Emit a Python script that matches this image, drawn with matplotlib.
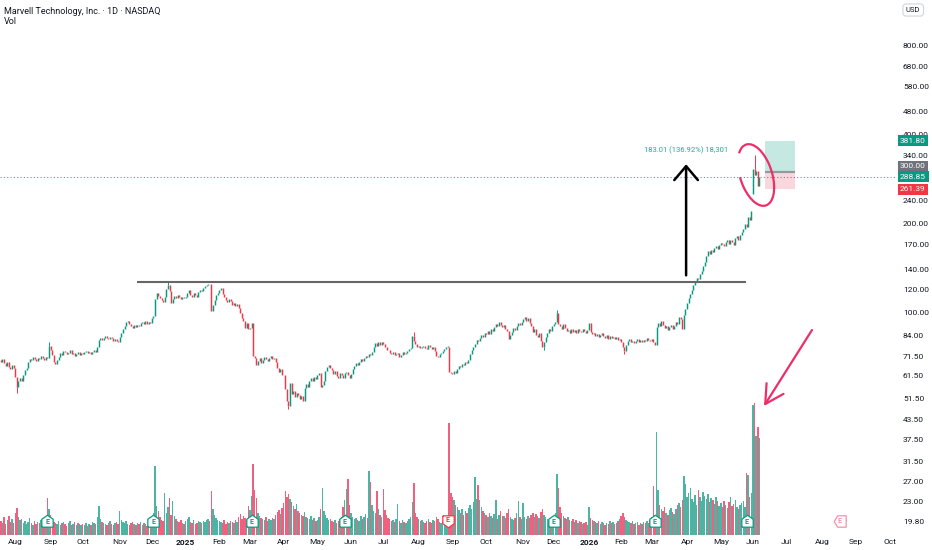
import numpy as np
import matplotlib
matplotlib.use("Agg")
import matplotlib.pyplot as plt
from matplotlib.patches import Arc, FancyArrowPatch, Rectangle
from matplotlib.transforms import IdentityTransform, blended_transform_factory
from matplotlib.ticker import NullLocator

plt.rcParams['font.family'] = ['Roboto', 'DejaVu Sans']

# ---- data -------------------------------------------------------------
# 9 daily bars of late Jul 2024 come before the first month label
lead_bars = 9
month_labels = ['Aug', 'Sep', 'Oct', 'Nov', 'Dec', '2025', 'Feb', 'Mar', 'Apr', 'May', 'Jun', 'Jul',
                'Aug', 'Sep', 'Oct', 'Nov', 'Dec', '2026', 'Feb', 'Mar', 'Apr', 'May', 'Jun', 'Jul',
                'Aug', 'Sep', 'Oct']
# trading days per month, Aug 2024 .. Sep 2026
month_bars = [22, 20, 23, 20, 21, 21, 19, 21, 21, 21, 20, 22, 21, 21, 23, 19, 22, 20, 19, 22, 21, 20,
              21, 22, 21, 21]

# daily closes, Jul 2024 .. Dec 2024
closes_2024 = [
    68.5, 69.8, 67.9, 66.2, 68.1, 65.5, 64.8, 66.9, 65.2,
    61.0, 56.2, 58.9, 60.5, 59.1, 61.8, 64.2, 65.0, 68.3, 70.1, 69.4, 71.2, 70.0, 68.9, 70.6, 69.7,
    71.3, 70.2, 69.5, 71.0, 70.4, 77.6,
    75.2, 71.9, 68.1, 67.3, 69.4, 71.2, 73.5, 72.1, 74.6, 73.8, 72.4, 73.1, 74.9, 72.6, 73.3, 71.8,
    72.9, 73.6, 72.2, 73.0,
    72.5, 73.8, 74.4, 73.1, 74.0, 72.9, 73.6, 74.8, 73.9, 76.5, 81.2, 82.6, 80.9, 82.3, 83.4, 82.0,
    81.5, 83.1, 82.4, 80.6, 81.8, 80.2, 79.5,
    82.8, 85.4, 88.1, 90.6, 93.2, 94.1, 92.0, 90.3, 89.1, 90.8, 89.6, 91.2, 90.4, 92.6, 93.4, 92.1,
    94.0, 91.7, 93.0, 92.3,
    95.8, 97.4, 111.5, 116.8, 114.2, 112.0, 110.3, 109.1, 113.6, 120.8, 124.5, 118.2, 108.4, 111.2,
    113.9, 112.5, 115.0, 113.4, 111.8, 113.1, 112.2,
]
closes_2025 = [
    112.8, 116.4, 119.2, 115.1, 113.5, 116.8, 114.9, 113.2, 117.5, 119.8, 118.6, 121.3, 122.9, 124.2,
    125.7, 124.8, 101.9, 106.2, 110.6, 114.8, 117.2,
    119.5, 121.2, 116.3, 112.9, 110.6, 108.8, 111.2, 109.4, 106.5, 108.2, 105.9, 107.3, 103.8, 100.2,
    96.1, 93.6, 89.3, 92.2, 88.4,
    89.2, 92.5, 71.8, 70.4, 66.5, 68.9, 70.3, 67.8, 69.5, 71.2, 70.1, 68.8, 70.6, 71.8, 69.9, 70.7,
    68.2, 65.4, 63.1, 64.6, 61.9,
    61.5, 55.2, 50.4, 48.6, 57.8, 53.1, 54.4, 52.0, 53.6, 52.9, 51.2, 52.4, 50.3, 55.6, 57.4, 56.1,
    58.9, 60.2, 59.1, 61.0, 59.8,
    61.8, 62.5, 56.4, 57.2, 58.9, 63.8, 65.9, 66.8, 65.2, 64.1, 62.3, 63.5, 61.2, 60.4, 62.8, 61.5,
    60.2, 62.9, 63.4, 61.8, 60.5,
    62.1, 64.8, 66.2, 67.9, 66.5, 68.4, 69.8, 68.6, 70.2, 71.5, 70.8, 72.6, 71.9, 74.1, 76.8, 78.9,
    77.4, 79.8, 78.2, 79.5,
    78.6, 76.9, 75.2, 74.8, 73.1, 72.4, 73.6, 71.9, 72.8, 73.5, 71.2, 72.1, 73.9, 72.6, 73.2, 74.5,
    75.8, 76.4, 83.5, 80.1, 78.5, 76.8,
    77.2, 75.9, 76.8, 77.5, 76.2, 75.4, 77.9, 76.6, 75.8, 76.9, 74.2, 71.8, 70.9, 72.4, 73.1, 74.6,
    75.8, 76.9, 77.0, 63.4, 62.6,
    62.1, 63.5, 62.8, 64.9, 66.2, 65.8, 67.4, 66.9, 68.3, 67.6, 69.1, 72.5, 74.8, 76.9, 78.4, 81.2,
    80.1, 82.6, 84.5, 83.2, 85.9,
    84.8, 86.9, 85.2, 88.3, 87.1, 89.6, 91.8, 90.4, 92.9, 91.1, 89.7, 90.8, 88.5, 86.9, 81.8, 84.2,
    86.5, 88.9, 87.3, 90.6, 92.4, 91.2, 93.5,
    95.6, 97.2, 94.1, 96.5, 92.8, 90.2, 86.4, 88.1, 84.5, 82.9, 85.6, 80.4, 76.8, 79.5, 83.2, 85.8,
    88.4, 87.2, 90.6,
    91.8, 93.4, 99.6, 92.1, 90.4, 88.2, 91.5, 89.3, 86.8, 87.9, 85.6, 88.1, 86.4, 87.5, 85.9, 88.6,
    87.1, 86.2, 88.4, 87.0, 85.8, 87.6,
]
closes_2026 = [
    92.8, 86.4, 84.9, 85.8, 83.6, 84.7, 82.9, 84.1, 85.3, 83.8, 82.5, 84.2, 81.9, 83.4, 82.1, 83.0,
    81.6, 82.8, 80.9, 81.7,
    79.8, 76.5, 74.2, 77.8, 80.6, 81.9, 79.8, 80.5, 79.2, 80.1, 81.4, 79.6, 80.8, 79.9, 81.2, 80.4,
    82.3, 81.1, 80.2,
    81.5, 79.8, 78.2, 89.4, 92.6, 90.1, 93.8, 91.2, 88.9, 90.5, 87.6, 89.8, 91.4, 88.2, 90.6, 92.9,
    91.5, 97.2, 95.1, 88.4, 98.6, 103.5,
    108.4, 112.6, 115.8, 119.4, 124.2, 128.6, 131.5, 129.8, 135.2, 138.4, 143.6, 149.2, 155.8, 162.4,
    158.1, 163.5, 161.2, 165.8, 168.4, 164.9, 169.5,
    172.1, 170.4, 168.2, 173.5, 175.9, 171.6, 176.8, 174.2, 169.5, 178.9, 181.4, 176.2, 183.8, 187.5,
    192.4, 199.6, 195.2, 210.2, 205.6, 221.8,
    306.0, 292.0, 301.0, 268.0, 288.85,
]
first_open = 69.2
gap_opens = {468: 252.0}
wick_highs = {30: 79.5, 104: 127.5, 257: 86.0, 346: 102.0, 469: 342.0}
wick_lows = {10: 53.5, 179: 47.2, 338: 74.8, 388: 72.5}

# daily volume, millions of shares
vol_2024 = [
    14, 12, 18, 11, 15, 19, 13, 16, 12,
    22, 27, 18, 15, 16, 12, 14, 11, 13, 17, 12, 10, 14, 11, 13, 12, 15, 11, 14, 16, 37, 26,
    20, 16, 13, 12, 11, 14, 10, 12, 13, 11, 9, 12, 14, 10, 11, 13, 10, 12, 11, 10,
    11, 10, 12, 9, 11, 10, 13, 12, 11, 18, 29, 16, 13, 12, 11, 10, 12, 14, 11, 10, 12, 13, 11,
    24, 15, 13, 12, 14, 11, 10, 12, 13, 11, 10, 12, 11, 13, 10, 12, 11, 9, 12, 13,
    16, 22, 69, 29, 24, 18, 15, 14, 42, 22, 28, 37, 20, 34, 19, 16, 14, 13, 15, 12, 11,
]
vol_2025 = [
    14, 16, 18, 13, 12, 15, 11, 12, 14, 13, 12, 14, 13, 15, 16, 14, 44, 26, 20, 17, 15,
    14, 13, 12, 15, 11, 13, 12, 14, 13, 12, 15, 13, 18, 21, 16, 19, 17, 15, 29,
    25, 39, 71, 45, 37, 22, 19, 17, 16, 15, 18, 14, 16, 15, 17, 16, 20, 23, 25, 21, 27,
    32, 44, 38, 41, 36, 33, 29, 26, 31, 24, 22, 20, 19, 23, 18, 17, 16, 19, 15, 17, 14,
    15, 18, 26, 47, 24, 20, 17, 15, 16, 14, 13, 15, 12, 14, 16, 18, 28, 35, 46, 56, 30,
    22, 18, 16, 17, 15, 14, 19, 16, 18, 21, 17, 64, 53, 30, 24, 22, 44, 26, 20, 18,
    46, 25, 20, 17, 16, 14, 15, 13, 16, 31, 14, 12, 15, 13, 12, 14, 16, 18, 33, 52, 22, 18,
    16, 14, 15, 13, 12, 14, 16, 13, 12, 15, 14, 18, 16, 13, 12, 14, 15, 13, 17, 112, 42,
    38, 35, 30, 28, 25, 22, 26, 20, 24, 22, 27, 30, 26, 33, 58, 36, 50, 35, 28, 24, 22,
    20, 18, 22, 19, 17, 21, 35, 16, 20, 24, 19, 19, 17, 22, 26, 18, 16, 15, 17, 22, 34, 18, 16,
    32, 18, 16, 19, 17, 20, 22, 18, 21, 19, 17, 23, 26, 20, 18, 16, 15, 17, 16,
    19, 22, 61, 47, 28, 22, 19, 17, 16, 18, 15, 14, 16, 13, 15, 12, 14, 13, 11, 12, 13, 10,
]
vol_2026 = [
    28, 17, 15, 14, 13, 12, 14, 11, 13, 12, 10, 12, 11, 14, 12, 13, 11, 12, 14, 16,
    19, 22, 18, 15, 14, 13, 12, 14, 11, 12, 13, 10, 12, 11, 13, 12, 14, 12, 15,
    18, 49, 20, 103, 45, 30, 26, 24, 28, 22, 20, 25, 27, 23, 21, 26, 30, 32, 28, 35, 59, 51,
    38, 42, 47, 36, 33, 40, 30, 45, 38, 34, 43, 39, 36, 41, 33, 37, 35, 31, 38, 34, 29,
    32, 28, 34, 30, 27, 33, 38, 29, 31, 35, 28, 26, 30, 32, 34, 28, 62, 60, 38, 42,
    130, 132, 99, 108, 97,
]

# earnings flags: bar index, kind
earn_bars = [29, 95, 156, 214, 278, 344, 407, 464, 522]
earn_kind = ['up', 'up', 'up', 'up', 'down', 'up', 'up', 'up', 'next']

price_ticks = [800, 680, 580, 480, 400, 340, 300, 240, 200, 170, 140, 120, 100, 84, 71.5, 61.5,
               51.5, 43.5, 37.5, 31.5, 27, 23, 19.8]
last_price = 288.85
target_price = 381.80
entry_price = 300.00
stop_price = 261.39
resistance = 127.3
move_text = '183.01 (136.92%) 18,301'

# ---- build candles --------------------------------------------------------
closes = np.array(closes_2024 + closes_2025 + closes_2026)
vols = np.array(vol_2024 + vol_2025 + vol_2026)
n = len(closes)
x = np.arange(n)
opens = np.r_[first_open, closes[:-1]]
for i, o in gap_opens.items():
    opens[i] = o
up = closes >= opens
lo = np.minimum(opens, closes)
hi = np.maximum(np.maximum(opens, closes), lo * 1.004)

UP, DN = '#089981', '#f23645'
VUP, VDN = '#4db3a2', '#f0607f'
TEAL = '#089981'
PINK = '#eb2f6a'

W, H = 932, 550
fig = plt.figure(figsize=(W / 100, H / 100), dpi=100)
rect = [0, 15 / H, 896 / W, 535 / H]
axv = fig.add_axes(rect)
ax = fig.add_axes(rect, sharex=axv)
ax.patch.set_alpha(0)

# volume
axv.bar(x, vols, width=0.9, color=np.where(up, VUP, VDN), linewidth=0)
axv.set_ylim(0, 535)
axv.set_axis_off()

house_up = [(-1, -1), (1, -1), (1, 0.4), (0, 1.1), (-1, 0.4), (-1, -1)]
house_dn = [(vx, -vy) for vx, vy in house_up]
tag_left = [(-1.1, 0), (-0.5, 1), (1, 1), (1, -1), (-0.5, -1), (-1.1, 0)]
for b, k in zip(earn_bars, earn_kind):
    if k == 'up':
        shape, col, ty = house_up, TEAL, 13
    elif k == 'down':
        shape, col, ty = house_dn, DN, 15
    else:
        shape, col, ty = tag_left, '#f48fab', 14
    axv.plot([b], [14], marker=shape, ms=9, mfc='white', mec=col, mew=0.9, zorder=4)
    axv.text(b, ty, 'E', fontsize=5, color=col, ha='center', va='center',
             fontweight='bold', zorder=5)

# price candles
cols = np.where(up, UP, DN)
ax.vlines(x, lo, hi, colors=cols, lw=1.05)
for i, h in wick_highs.items():
    ax.vlines(i, hi[i], h, colors=cols[i], lw=0.7)
for i, l in wick_lows.items():
    ax.vlines(i, l, lo[i], colors=cols[i], lw=0.7)

ax.set_yscale('log')
ax.set_ylim(17.78, 1141)
ax.set_xlim(-0.5, 557)

# drawings
ax.hlines(resistance, 85, 463.6, colors='#666666', lw=1.5, zorder=3)
ax.axhline(last_price, color=TEAL, ls=(0, (1, 2)), lw=0.8, alpha=0.8)
ax.add_patch(Rectangle((475.5, entry_price), 18.7, target_price - entry_price,
                       fc='#c5e8e2', ec='none', zorder=1))
ax.add_patch(Rectangle((475.5, stop_price), 18.7, entry_price - stop_price,
                       fc='#f9d7dc', ec='none', zorder=1))
ax.hlines(entry_price, 475.5, 494.2, colors='#9598a1', lw=1.6, zorder=2)

ax.add_patch(FancyArrowPatch((426.4, 134), (426.4, 318),
                             arrowstyle='->,head_length=1.0,head_width=0.85',
                             mutation_scale=10, lw=1.8, color='black',
                             shrinkA=0, shrinkB=0, zorder=4))
ax.text(426.4, 355, move_text, fontsize=5.5, color='#22ab94', ha='center', va='center')

# hand-drawn ellipse and arrow, in pixels
fig.add_artist(Arc((756, H - 175), 32, 64, angle=18, theta1=170, theta2=470,
                   color=PINK, lw=1.6, transform=IdentityTransform()))
fig.add_artist(FancyArrowPatch((812, H - 330), (764, H - 406),
                               arrowstyle='->,head_length=1.1,head_width=0.6',
                               mutation_scale=12, lw=1.6, color=PINK,
                               shrinkA=0, shrinkB=0, transform=IdentityTransform()))

# axes and labels
for s in ax.spines.values():
    s.set_visible(False)
ax.yaxis.tick_right()
ax.set_yticks(price_ticks)
ax.set_yticklabels([f'{v:.2f}' for v in price_ticks])
ax.yaxis.set_minor_locator(NullLocator())
ax.tick_params(axis='y', length=0, pad=5, labelsize=6, labelcolor='#131722')

tick_pos = lead_bars + np.r_[0, np.cumsum(month_bars)]
ax.set_xticks(tick_pos)
ax.set_xticklabels(month_labels)
ax.tick_params(axis='x', length=0, pad=3, labelsize=6, labelcolor='#131722')
for t in ax.get_xticklabels():
    if t.get_text().isdigit():
        t.set_fontweight('bold')

tr = blended_transform_factory(ax.transAxes, ax.transData)
for yv, txt, fc in [(target_price, f'{target_price:.2f}', TEAL),
                    (313.5, f'{entry_price:.2f}', '#6f727c'),
                    (last_price, f'{last_price:.2f}', TEAL),
                    (stop_price, f'{stop_price:.2f}', DN)]:
    ax.text(1.0 + 4 / 896, yv, txt, transform=tr, fontsize=6, color='white',
            ha='left', va='center', clip_on=False, zorder=6,
            bbox=dict(boxstyle='square,pad=0.3', fc=fc, ec='none'))

fig.text(4 / W, 1 - 11 / H, 'Marvell Technology, Inc. · 1D · NASDAQ', fontsize=6.5,
         color='#131722', va='center')
fig.text(4 / W, 1 - 22 / H, 'Vol', fontsize=6.5, color='#131722', va='center')
fig.text(906 / W, 1 - 10 / H, 'USD', fontsize=5.5, color='#131722', va='center',
         bbox=dict(boxstyle='round,pad=0.4', fc='white', ec='#d1d4dc', lw=0.8))

fig.savefig('out.png', dpi=100)
